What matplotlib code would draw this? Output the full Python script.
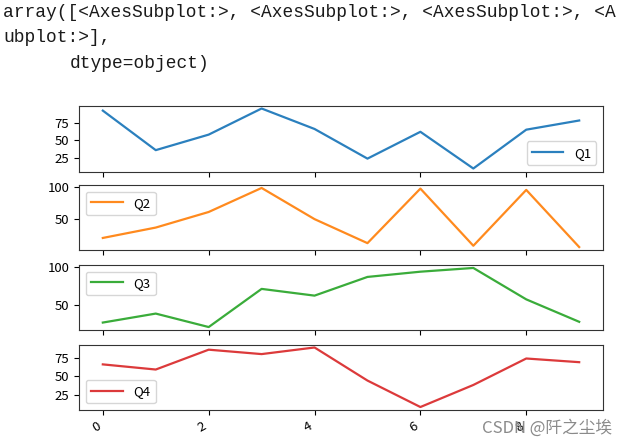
import matplotlib
matplotlib.use("Agg")
import matplotlib.pyplot as plt
import numpy as np

# ---- data ----
x_index = list(range(10))
q1 = [92, 36, 58, 95, 66, 24, 62, 10, 65, 78]
q2 = [21, 37, 61, 98, 50, 13, 97, 9, 95, 7]
q3 = [26, 38, 20, 71, 62, 87, 94, 99, 57, 27]
q4 = [66, 59, 86, 80, 89, 44, 8, 38, 74, 69]
series_names = ["Q1", "Q2", "Q3", "Q4"]
series_values = [q1, q2, q3, q4]
legend_locs = ["lower right", "upper left", "upper left", "lower left"]
xtick_values = [0, 2, 4, 6, 8]
header_lines = ["array([<AxesSubplot:>, <AxesSubplot:>, <AxesSubplot:>, <A",
                "ubplot:>],"]
header_last = "dtype=object)"
watermark = "CSDN @阡之尘埃"

plt.rcParams['font.family'] = ['Noto Sans CJK SC', 'DejaVu Sans']

W, H = 628, 446
fig = plt.figure(figsize=(W / 100, H / 100), dpi=100)
fig.patch.set_facecolor("white")

# header text (Jupyter output)
mono = dict(family=['Liberation Mono', 'DejaVu Sans Mono'], fontsize=12.9,
            color='#1a1a1a', va='baseline', ha='left')
fig.text(3 / W, 1 - 17 / H, header_lines[0], **mono)
fig.text(3 / W, 1 - 42 / H, header_lines[1], **mono)
fig.text(70 / W, 1 - 68 / H, header_last, **mono)

left, right = 79 / W, 603 / W
panels = [(105.5, 171.5), (185, 250), (265, 330), (344.5, 410)]
colors = ['#2b80be', '#ff8a1e', '#3aac3a', '#dc3a3b']

axes = []
for i, (top, bot) in enumerate(panels):
    ax = fig.add_axes([left, 1 - bot / H, right - left, (bot - top) / H],
                      sharex=axes[0] if axes else None)
    ax.plot(x_index, series_values[i], color=colors[i], lw=1.6, label=series_names[i])
    ax.legend(loc=legend_locs[i], fontsize=9.5, handlelength=2.4)
    ax.tick_params(labelsize=9.5, length=3.5, width=0.8)
    ax.set_xticks(xtick_values)
    for s in ax.spines.values():
        s.set_color('#333333')
    axes.append(ax)

for ax in axes[:-1]:
    ax.tick_params(labelbottom=False)
for lab in axes[-1].get_xticklabels():
    lab.set_rotation(30)
    lab.set_ha('right')

fig.text(612 / W, 1 - 428 / H, watermark, fontsize=12, color='#8a8a8a',
         ha='right', va='center', family=['Noto Sans CJK SC', 'DejaVu Sans'])

fig.savefig("out.png", dpi=100)
